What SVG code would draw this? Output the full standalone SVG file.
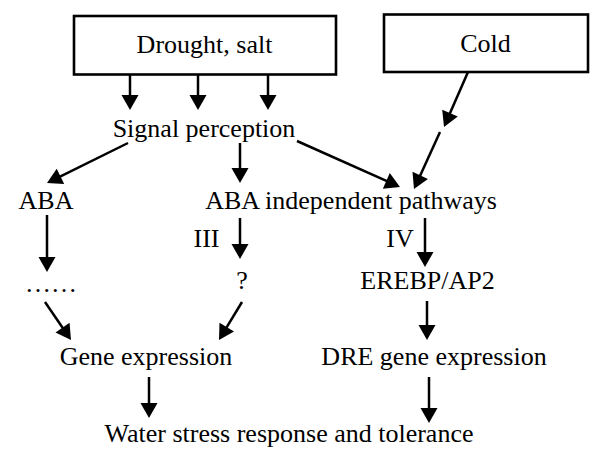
<svg xmlns="http://www.w3.org/2000/svg" width="600" height="455" viewBox="0 0 600 455">
<defs>
<style>
text{font-family:'Liberation Serif','DejaVu Serif',serif;font-size:26px;fill:#000;text-anchor:middle}
.box{fill:#fff;stroke:#000;stroke-width:2.6}
.c line{stroke:#000;stroke-width:2.5;marker-end:url(#ah)}
</style>
<marker id="ah" markerUnits="userSpaceOnUse" markerWidth="16" markerHeight="17" refX="5" refY="8.5" orient="auto" overflow="visible">
<path d="M0,0 L15,8.5 L0,17 Z" fill="#000"/>
</marker>
</defs>
<rect width="600" height="455" fill="#fff"/>
<g id="drought"><rect class="box" x="74" y="16" width="262" height="58.5"/><text x="204.5" y="53">Drought, salt</text></g>
<g id="cold"><rect class="box" x="384" y="14.5" width="204" height="57.5"/><text x="485.5" y="52">Cold</text></g>
<g id="signal"><text x="204" y="137">Signal perception</text></g>
<g id="aba"><text x="46" y="209">ABA</text></g>
<g id="abaind"><text x="351" y="209">ABA independent pathways</text></g>
<g id="dots"><text x="51" y="292">……</text></g>
<g id="q"><text x="242" y="289">?</text></g>
<g id="erebp"><text x="427.5" y="289">EREBP/AP2</text></g>
<g id="gene"><text x="146" y="365">Gene expression</text></g>
<g id="dre"><text x="434" y="365">DRE gene expression</text></g>
<g id="water"><text x="289" y="442">Water stress response and tolerance</text></g>
<g id="labels"><text x="206.5" y="247">III</text><text x="400" y="247">IV</text></g>
<g id="connectors" class="c">
<line x1="130" y1="75" x2="130" y2="100"/>
<line x1="198" y1="75" x2="198" y2="100"/>
<line x1="268" y1="75" x2="268" y2="100"/>
<line x1="468" y1="72" x2="448" y2="117.8"/>
<line x1="440" y1="132" x2="418.15" y2="179.9"/>
<line x1="128" y1="143" x2="55.97" y2="178.57"/>
<line x1="240" y1="143" x2="240" y2="173"/>
<line x1="297" y1="141" x2="390.87" y2="182.92"/>
<line x1="47" y1="215" x2="47" y2="262"/>
<line x1="240" y1="218" x2="240" y2="249"/>
<line x1="425" y1="218" x2="425" y2="257"/>
<line x1="427" y1="301" x2="427" y2="330"/>
<line x1="45" y1="302" x2="65.35" y2="331.75"/>
<line x1="242" y1="302" x2="224.18" y2="331.45"/>
<line x1="149" y1="377" x2="149" y2="408"/>
<line x1="429" y1="377" x2="429" y2="413"/>
</g>
</svg>
